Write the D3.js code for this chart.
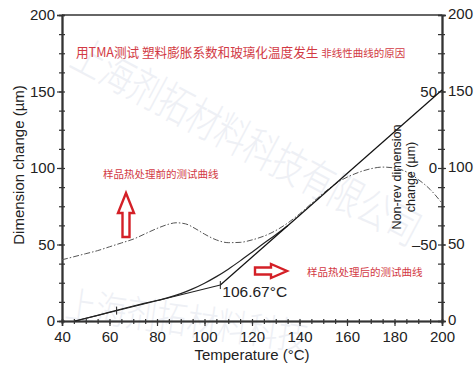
<!DOCTYPE html>
<html>
<head>
<meta charset="utf-8">
<script src="https://cdn.jsdelivr.net/npm/d3@7"></script>
<style>
  body { margin: 0; background: #fff; }
  svg { display: block; }
</style>
</head>
<body>
<script>
// TMA chart: dimension change vs temperature, before / after heat treatment

const w = 474;
const h = 366;
const margin = { top: 15, right: 32, bottom: 45, left: 62 };
const width = w - margin.left - margin.right;
const height = h - margin.top - margin.bottom;

// curve before heat treatment (dash-dot)
const tempPre = [40, 45, 50, 55, 60, 65, 70, 75, 80, 85, 88, 92, 96, 100, 105, 110, 115, 120, 128, 135, 140, 147, 152, 157, 163, 170, 175, 180, 185, 190, 195, 200];
const dimPre  = [40, 42, 44, 46, 48.5, 51, 53.5, 57, 60.5, 63.3, 64.2, 63.5, 60.5, 56.8, 53, 51.2, 51.4, 53, 57.5, 64, 70, 79.5, 86, 91.5, 96, 99.5, 100.6, 100, 97.5, 92.5, 86, 77];

// curve after heat treatment (solid)
const tempPost = [45.5, 55, 63, 70, 77, 84, 90, 95, 100, 105, 110, 115, 120, 125, 130, 135];
const dimPost  = [0, 3.7, 7, 9.8, 12.4, 15, 17.9, 21, 24.7, 29, 33.9, 39.3, 45, 50.8, 56.4, 62.3];

// tangent lines, onset marker
const lowTanT = [45.5, 106.67];
const lowTanD = [0, 23.5];
const highTanT = [106.67, 200];
const highTanD = [23.5, 151];
const markT = [63, 106.67];
const markD = [6.8, 23.5];

const xTicks = [40, 60, 80, 100, 120, 140, 160, 180, 200];
const yTicks = [0, 50, 100, 150, 200];
const nonRevTicks = [-50, 0, 50];

const svg = d3.select("body")
  .append("svg")
  .attr("width", w)
  .attr("height", h);

const g = svg.append("g")
  .attr("transform", `translate(${margin.left},${margin.top})`);

const x_scale = d3.scaleLinear().domain([40, 200]).range([0, width]);
const y_scale = d3.scaleLinear().domain([0, 200]).range([height, 0]);
const nr_scale = d3.scaleLinear().domain([-100, 100]).range([height, 0]);

// faint watermark
const wm = "#eef0f5";
g.append("text")
  .attr("transform", "translate(6,50) rotate(28) scale(0.85,1.15)")
  .attr("font-family", "Noto Sans CJK SC")
  .attr("font-weight", 300)
  .attr("font-size", "38px")
  .attr("fill", wm)
  .text("上海剂拓材料科技有限公司");
g.append("text")
  .attr("transform", "translate(2,302) rotate(8) scale(0.9,1.1)")
  .attr("font-family", "Noto Sans CJK SC")
  .attr("font-weight", 300)
  .attr("font-size", "34px")
  .attr("fill", wm)
  .text("上海剂拓材料科技");

const font = "Liberation Sans, Arial, sans-serif";
const axisCol = "#333";

// axes
function styleAxis(sel) {
  sel.select(".domain").attr("stroke", axisCol).attr("stroke-width", 1.6);
  sel.selectAll(".tick line").attr("stroke", axisCol).attr("stroke-width", 1.2);
  sel.selectAll("text").attr("font-family", font).attr("font-size", "15px").attr("fill", "#222");
}

const minorY = d3.range(0, 201, 12.5);
const minorX = d3.range(40, 201, 5);

// bottom
g.append("g")
  .attr("transform", `translate(0,${height})`)
  .call(d3.axisBottom(x_scale).tickValues(minorX).tickSize(3).tickFormat(""))
  .call(styleAxis);
g.append("g")
  .attr("transform", `translate(0,${height})`)
  .call(d3.axisBottom(x_scale).tickValues(xTicks).tickSize(5).tickPadding(5))
  .call(styleAxis);
g.append("g")
  .attr("transform", `translate(0,${height})`)
  .call(d3.axisTop(x_scale).tickValues(minorX).tickSize(2).tickFormat(""))
  .call(styleAxis);

// top border
g.append("line")
  .attr("x1", 0).attr("x2", width).attr("y1", 0).attr("y2", 0)
  .attr("stroke", axisCol).attr("stroke-width", 1.6);

// left
g.append("g")
  .call(d3.axisLeft(y_scale).tickValues(yTicks).tickSize(5).tickPadding(2))
  .call(styleAxis);
g.append("g")
  .call(d3.axisLeft(y_scale).tickValues(minorY).tickSize(3).tickFormat(""))
  .call(styleAxis);
g.append("g")
  .call(d3.axisRight(y_scale).tickValues(minorY).tickSize(3).tickFormat(""))
  .call(styleAxis);

// right
g.append("g")
  .attr("transform", `translate(${width},0)`)
  .call(d3.axisRight(y_scale).tickValues(yTicks).tickSize(4).tickPadding(2))
  .call(styleAxis)
  .call(a => a.selectAll("text").attr("dy", "0.25em"));
g.append("g")
  .attr("transform", `translate(${width},0)`)
  .call(d3.axisRight(y_scale).tickValues(minorY).tickSize(3).tickFormat(""))
  .call(styleAxis);
g.append("g")
  .attr("transform", `translate(${width},0)`)
  .call(d3.axisLeft(nr_scale).tickValues(d3.range(-100, 101, 12.5)).tickSize(4).tickPadding(1)
    .tickFormat(d => nonRevTicks.includes(d) ? (d < 0 ? "\u2013" + Math.abs(d) : d) : ""))
  .call(styleAxis);

// curves
const line = d3.line()
  .x(d => x_scale(d[0]))
  .y(d => y_scale(d[1]))
  .curve(d3.curveMonotoneX);

g.append("path")
  .datum(tempPre.map((t, i) => [t, dimPre[i]]))
  .attr("d", line)
  .attr("fill", "none")
  .attr("stroke", "#555")
  .attr("stroke-width", 1)
  .attr("stroke-dasharray", "6,2,1.5,2");

g.append("path")
  .datum(tempPost.map((t, i) => [t, dimPost[i]]))
  .attr("d", line)
  .attr("fill", "none")
  .attr("stroke", "#222")
  .attr("stroke-width", 1.2);

const straight = d3.line().x(d => x_scale(d[0])).y(d => y_scale(d[1]));

g.append("path")
  .datum(lowTanT.map((t, i) => [t, lowTanD[i]]))
  .attr("d", straight)
  .attr("fill", "none")
  .attr("stroke", "#222")
  .attr("stroke-width", 1.1);

g.append("path")
  .datum(highTanT.map((t, i) => [t, highTanD[i]]))
  .attr("d", straight)
  .attr("fill", "none")
  .attr("stroke", "#111")
  .attr("stroke-width", 1.2);

g.selectAll(".mark")
  .data(markT.map((t, i) => [t, markD[i]]))
  .enter()
  .append("line")
  .attr("x1", d => x_scale(d[0]))
  .attr("x2", d => x_scale(d[0]))
  .attr("y1", d => y_scale(d[1]) - 4)
  .attr("y2", d => y_scale(d[1]) + 4)
  .attr("stroke", "#222")
  .attr("stroke-width", 1);

g.append("text")
  .attr("x", x_scale(106.67) + 2)
  .attr("y", y_scale(23.5) + 12)
  .attr("font-family", font)
  .attr("font-size", "15.5px")
  .attr("fill", "#222")
  .text("106.67°C");

// axis titles
g.append("text")
  .attr("x", width / 2)
  .attr("y", height + 39)
  .attr("text-anchor", "middle")
  .attr("font-family", font)
  .attr("font-size", "15px")
  .attr("fill", "#222")
  .text("Temperature (°C)");

g.append("text")
  .attr("transform", "rotate(-90)")
  .attr("x", -150)
  .attr("y", -38)
  .attr("text-anchor", "middle")
  .attr("font-family", font)
  .attr("font-size", "15px")
  .attr("fill", "#222")
  .text("Dimension change (µm)");

const nr = g.append("text")
  .attr("transform", `translate(${width - 41},${162}) rotate(-90)`)
  .attr("text-anchor", "middle")
  .attr("font-family", font)
  .attr("font-size", "12.5px")
  .attr("fill", "#222");
nr.append("tspan").attr("x", 0).attr("dy", 0).text("Non-rev dimension");
nr.append("tspan").attr("x", 0).attr("dy", "1.1em").text("change (µm)");

// red annotations
const red = "#d23a44";
const cjk = "Noto Sans CJK SC, sans-serif";
const t1 = g.append("text")
  .attr("x", 14)
  .attr("y", 42)
  .attr("font-family", cjk)
  .attr("fill", red);
t1.append("tspan").attr("font-size", "12.6px").text("用TMA测试 塑料膨胀系数和玻璃化温度发生 ");
t1.append("tspan").attr("font-size", "10.5px").text("非线性曲线的原因");

g.append("text")
  .attr("x", 41)
  .attr("y", 163)
  .attr("font-family", cjk)
  .attr("font-size", "10.5px")
  .attr("fill", red)
  .text("样品热处理前的测试曲线");

g.append("text")
  .attr("x", 245)
  .attr("y", 261)
  .attr("font-family", cjk)
  .attr("font-size", "10.5px")
  .attr("fill", red)
  .text("样品热处理后的测试曲线");

// hollow arrows
g.append("path")
  .attr("d", "M60.5,222 L60.5,198 L56,198 L64,178 L72,198 L67.5,198 L67.5,222 Z")
  .attr("fill", "#fff")
  .attr("stroke", "#d42027")
  .attr("stroke-width", 2.4)
  .attr("stroke-linejoin", "miter");
g.append("path")
  .attr("d", "M193,252.5 L209,252.5 L209,249 L225,256 L209,263 L209,259.5 L193,259.5 Z")
  .attr("fill", "#fff")
  .attr("stroke", "#d42027")
  .attr("stroke-width", 2.4)
  .attr("stroke-linejoin", "miter");
</script>
</body>
</html>
